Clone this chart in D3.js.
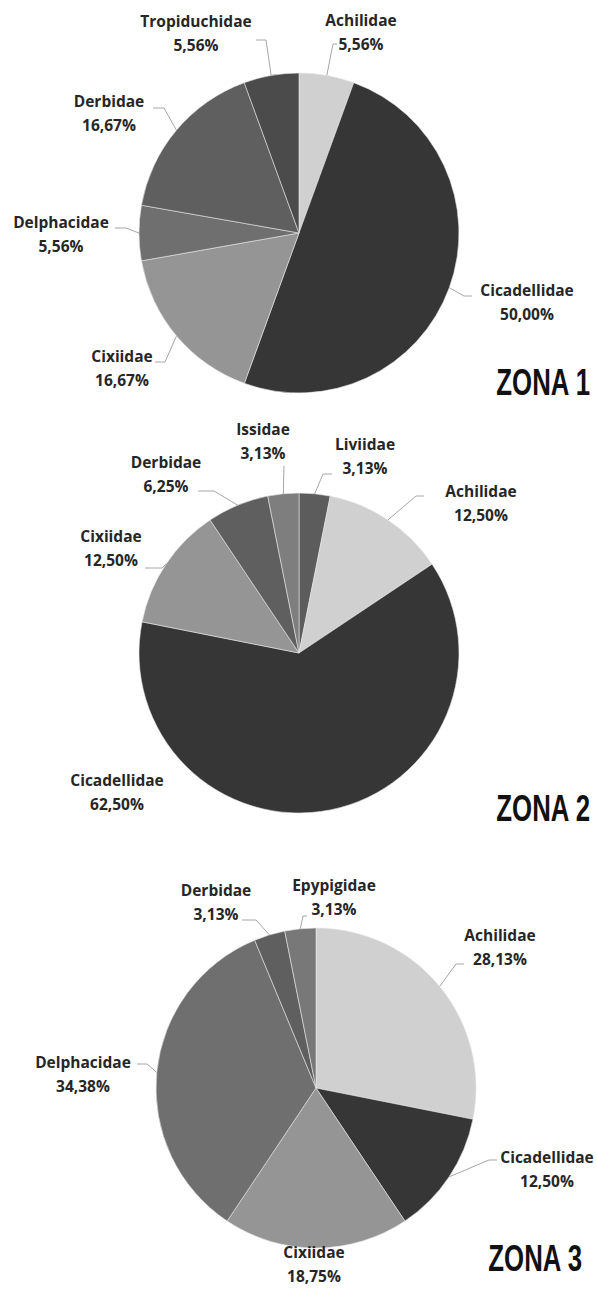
<!DOCTYPE html>
<html>
<head>
<meta charset="utf-8">
<script src="https://cdn.jsdelivr.net/npm/d3@7"></script>
<style>
  body { margin: 0; background: #fff; }
</style>
</head>
<body>
<script>
// 各ゾーンの科（カテゴリ）と割合（%）。時計回り、12時の位置から
const zona1Cats = ["Achilidae", "Cicadellidae", "Cixiidae", "Delphacidae", "Derbidae", "Tropiduchidae"];
const zona1Vals = [5.56, 50.0, 16.67, 5.56, 16.67, 5.56];

const zona2Cats = ["Liviidae", "Achilidae", "Cicadellidae", "Cixiidae", "Derbidae", "Issidae"];
const zona2Vals = [3.13, 12.5, 62.5, 12.5, 6.25, 3.13];

const zona3Cats = ["Achilidae", "Cicadellidae", "Cixiidae", "Delphacidae", "Derbidae", "Epypigidae"];
const zona3Vals = [28.13, 12.5, 18.75, 34.38, 3.13, 3.13];

const zonaTitles = ["ZONA 1", "ZONA 2", "ZONA 3"];

// レイアウト
const w = 597;
const h = 1289;
const r = 160;
const centers = [[299, 233], [299, 653], [316, 1088]];
const titlePos = [[590, 395], [590, 821], [582, 1271]];

// ラベル位置 [x, 1行目のy] と引き出し線 [始点x, 始点y, 折れ点x]（null は線なし）
const labelPos = [
  [[361, 20], [527, 290], [122, 356], [61, 222], [109, 101], [196, 21]],
  [[365, 444], [481, 491], [117, 780], [111, 536], [166, 462], [263, 429]],
  [[500, 935], [547, 1157], [314, 1252], [83, 1062], [216, 890], [334, 885]]
];
const leaders = [
  [[337, 44, 333], [472, 296, 464], [155, 362, 165], [115, 228, 126], [153, 108, 164], [256, 40, 266]],
  [[332, 474, 323], [424, 496, 416], null, [145, 568, 162], [198, 491, 214], [284, 466, 284]],
  [[464, 964, 456], [497, 1160, 489], null, [137, 1064, 147], [242, 920, 256], [307, 916, 303]]
];

const color = d3
  .scaleOrdinal()
  .domain(["Achilidae", "Cicadellidae", "Cixiidae", "Delphacidae", "Derbidae", "Tropiduchidae", "Issidae", "Liviidae", "Epypigidae"])
  .range(["#d0d0d0", "#363636", "#959595", "#6f6f6f", "#5f5f5f", "#4b4b4b", "#7e7e7e", "#5c5c5c", "#787878"]);

const zones = [
  { cats: zona1Cats, vals: zona1Vals },
  { cats: zona2Cats, vals: zona2Vals },
  { cats: zona3Cats, vals: zona3Vals }
];

const fmt = function (v) {
  return d3.format(".2f")(v).replace(".", ",") + "%";
};

const pie = d3.pie().sort(null).value(function (d) {
  return d.v;
});
const arc = d3.arc().innerRadius(0).outerRadius(r);

var svg = d3.select("body").append("svg").attr("width", w).attr("height", h);

zones.forEach(function (z, zi) {
  const data = z.cats.map(function (c, i) {
    return { cat: c, v: z.vals[i] };
  });
  const arcs = pie(data);
  const cx = centers[zi][0];
  const cy = centers[zi][1];

  const g = svg.append("g").attr("transform", "translate(" + cx + "," + cy + ")");

  g.selectAll("path")
    .data(arcs)
    .enter()
    .append("path")
    .attr("d", arc)
    .attr("fill", function (d) {
      return color(d.data.cat);
    })
    .attr("stroke", "#e6e6e6")
    .attr("stroke-width", 0.6);

  // 引き出し線
  svg
    .selectAll(".lead" + zi)
    .data(arcs.filter(function (d, i) {
      return leaders[zi][i];
    }))
    .enter()
    .append("polyline")
    .attr("points", function (d) {
      const i = d.index;
      const L = leaders[zi][i];
      const a = (d.startAngle + d.endAngle) / 2;
      const ex = cx + r * Math.sin(a);
      const ey = cy - r * Math.cos(a);
      return [[L[0], L[1]], [L[2], L[1]], [ex, ey]].join(" ");
    })
    .attr("fill", "none")
    .attr("stroke", "#a6a6a6")
    .attr("stroke-width", 1);

  // ラベル
  const lab = svg
    .selectAll(".lab" + zi)
    .data(arcs)
    .enter()
    .append("text")
    .attr("text-anchor", "middle")
    .attr("font-family", "'Open Sans', sans-serif")
    .attr("font-weight", "bold")
    .attr("font-size", "15.5px")
    .attr("fill", "#262626");

  lab
    .append("tspan")
    .attr("x", function (d) {
      return labelPos[zi][d.index][0];
    })
    .attr("y", function (d) {
      return labelPos[zi][d.index][1] + 6;
    })
    .text(function (d) {
      return d.data.cat;
    });

  lab
    .append("tspan")
    .attr("x", function (d) {
      return labelPos[zi][d.index][0];
    })
    .attr("y", function (d) {
      return labelPos[zi][d.index][1] + 30;
    })
    .text(function (d) {
      return fmt(d.data.v);
    });

  // ゾーン名（縦長の太字）
  svg
    .append("text")
    .attr("transform", "translate(" + titlePos[zi][0] + "," + titlePos[zi][1] + ") scale(0.86,1.26)")
    .attr("text-anchor", "end")
    .attr("font-family", "'Liberation Sans', Arial, sans-serif")
    .attr("font-weight", "bold")
    .attr("font-size", "30px")
    .attr("fill", "#111")
    .text(zonaTitles[zi]);
});
</script>
</body>
</html>
